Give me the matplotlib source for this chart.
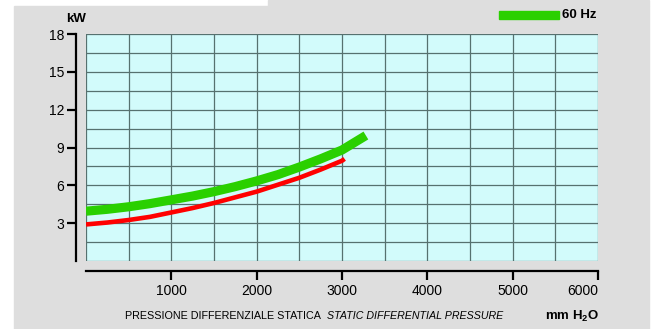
import numpy as np
import matplotlib
matplotlib.use('Agg')
import matplotlib.pyplot as plt
from matplotlib.patches import Rectangle

plt.rcParams['font.family'] = ['Liberation Sans', 'DejaVu Sans']
plt.rcParams['mathtext.fontset'] = 'custom'
plt.rcParams['mathtext.rm'] = 'Liberation Sans:bold'

# curves (pressure mm H2O -> kW)
press_60 = [0, 250, 500, 750, 1000, 1250, 1500, 1750, 2000, 2250, 2500, 2750, 3000, 3280]
kw_60 = [3.95, 4.1, 4.3, 4.55, 4.85, 5.15, 5.5, 5.9, 6.35, 6.85, 7.45, 8.1, 8.8, 9.95]
press_50 = [0, 250, 500, 750, 1000, 1250, 1500, 1750, 2000, 2250, 2500, 2750, 3000, 3030]
kw_50 = [2.9, 3.05, 3.25, 3.5, 3.85, 4.2, 4.6, 5.05, 5.5, 6.05, 6.6, 7.25, 7.95, 8.1]

x_ticks = [1000, 2000, 3000, 4000, 5000, 6000]
y_ticks = [3, 6, 9, 12, 15, 18]
legend_label = '60 Hz'

green = '#2ad000'
red = '#ff0000'
W, H = 653, 329

fig = plt.figure(figsize=(W / 100, H / 100), dpi=100)
fig.patch.set_facecolor('white')

# grey card behind the chart
fig.patches.append(Rectangle((14 / W, 0), (649 - 14) / W, (H - 6) / H,
                             transform=fig.transFigure, color='#dedede', zorder=-10))
fig.patches.append(Rectangle((268 / W, (H - 6) / H), (649 - 268) / W, 6 / H,
                             transform=fig.transFigure, color='#dedede', zorder=-10))

ax = fig.add_axes([86 / W, (H - 261) / H, (598 - 86) / W, (261 - 34) / H])
ax.set_facecolor('#d2fbfb')
ax.set_xlim(0, 6000)
ax.set_ylim(0, 18)

ax.plot(press_60, kw_60, color=green, lw=6.6, solid_capstyle='butt', zorder=3)
ax.plot(press_50, kw_50, color=red, lw=3.3, solid_capstyle='butt', zorder=3)

# grid every 500 / 1.5
ax.set_xticks(x_ticks)
ax.set_xticks(np.arange(0, 6001, 500), minor=True)
ax.set_yticks(y_ticks)
ax.set_yticks(np.arange(0, 18.1, 1.5), minor=True)
ax.grid(which='both', color='#56716f', lw=0.9)
ax.set_axisbelow(True)
ax.tick_params(which='minor', length=0)

for s in ['top', 'right']:
    ax.spines[s].set_visible(False)
ax.spines['left'].set_position(('outward', 7.2))
ax.spines['bottom'].set_position(('outward', 7.2))
for s in ['left', 'bottom']:
    ax.spines[s].set_linewidth(1.6)
ax.tick_params(which='major', direction='out', length=6.5, width=1.6,
               labelsize=10, pad=2)
ax.tick_params(axis='x', pad=3)
# last label sits flush with the end of the axis
ax.get_xticklabels()[-1].set_ha('right')

# texts
fig.text(76 / W, 1 - 19 / H, 'kW', fontsize=9.5, fontweight='bold', ha='center', va='center')
fig.patches.append(Rectangle((499 / W, 1 - 19 / H), 60 / W, 8 / H,
                             transform=fig.transFigure, color=green, zorder=2))
fig.text(562 / W, 1 - 15 / H, legend_label, fontsize=9.5, fontweight='bold', va='center')

fig.text(125 / W, 1 - 316 / H, 'PRESSIONE DIFFERENZIALE STATICA', fontsize=7.75, va='center')
fig.text(327 / W, 1 - 316 / H, 'STATIC DIFFERENTIAL PRESSURE', fontsize=7.65,
         style='italic', va='center')
fig.text(545 / W, 1 - 316 / H, r'mm H$_2$O', fontsize=9.5, fontweight='bold', va='center')

fig.savefig('out.png', dpi=100, facecolor=fig.get_facecolor())
